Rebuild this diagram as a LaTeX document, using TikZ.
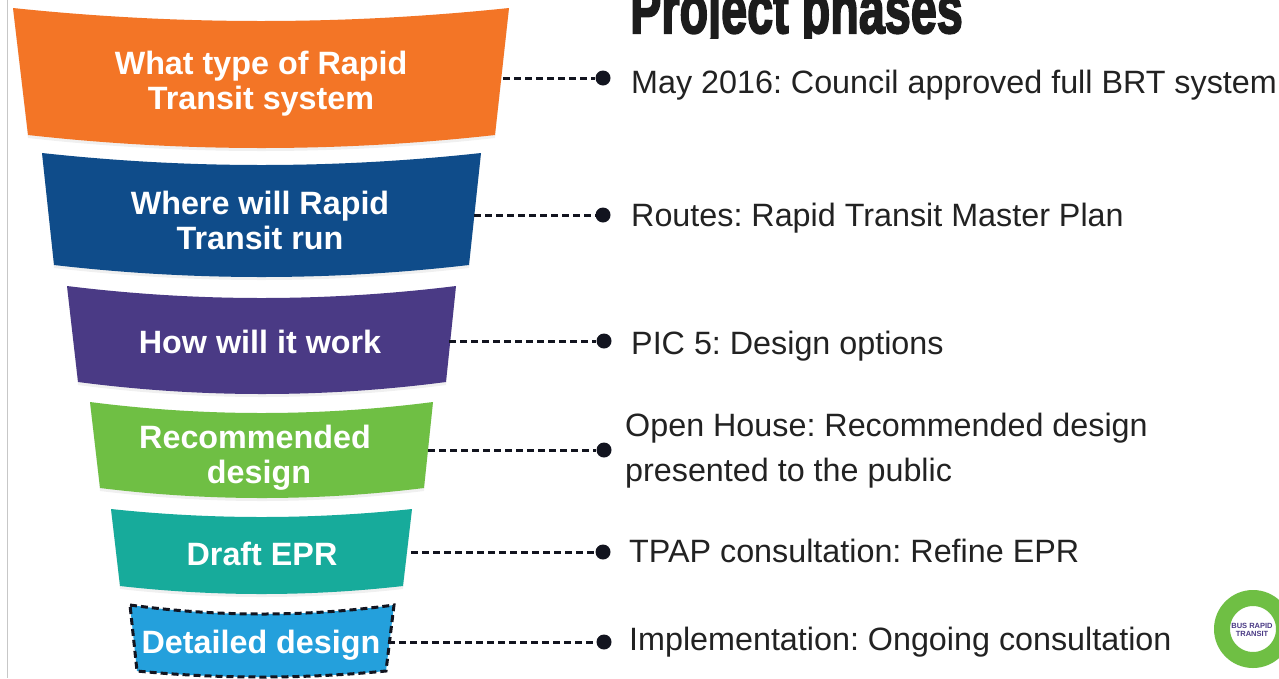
\documentclass[tikz,border=0pt]{standalone}
\usepackage{fontspec}
\setmainfont{Liberation Sans}
\newfontfamily\titlefont{Liberation Sans}[UprightFont=* Bold,FakeBold=3]
\definecolor{forange}{HTML}{F37526}
\definecolor{fblue}{HTML}{0F4C8A}
\definecolor{fpurple}{HTML}{4A3A85}
\definecolor{fgreen}{HTML}{6FBF44}
\definecolor{fteal}{HTML}{17AB9B}
\definecolor{fsky}{HTML}{24A0DC}
\definecolor{ftext}{HTML}{222222}
\definecolor{fdark}{HTML}{12141F}
\definecolor{ftitle}{HTML}{1C1C1C}
\newcommand{\funnelpath}[9]{%
  \pgfmathsetmacro{\ctop}{#3+(#6-#3)*4/3}%
  \pgfmathsetmacro{\cbot}{#8+(\fbot-#8)*4/3}%
  \pgfmathsetmacro{\cax}{#2+(#4-#2)/3}%
  \pgfmathsetmacro{\cbx}{#2+(#4-#2)*2/3}%
  \pgfmathsetmacro{\dax}{#9+(#7-#9)/3}%
  \pgfmathsetmacro{\dbx}{#9+(#7-#9)*2/3}%
  \path[#1] (#2,#3) .. controls (\cax,\ctop) and (\cbx,\ctop) .. (#4,#5)
    -- (#7,#8) .. controls (\dbx,\cbot) and (\dax,\cbot) .. (#9,#8) -- cycle;%
}
\tikzset{
  flabel/.style={text=white,font=\fontsize{32.3}{35}\selectfont\bfseries,align=center,inner sep=0pt},
  ftxt/.style={text=ftext,font=\fontsize{32.3}{45}\selectfont,align=left,anchor=west,inner sep=0pt},
  fdot/.style={circle,fill=fdark,minimum size=15pt,inner sep=0pt},
  flink/.style={draw=fdark,line width=3pt,dash pattern=on 7pt off 4pt},
  fshadow/.style={fill=black,fill opacity=.06}
}
\begin{document}
\frenchspacing
\begin{tikzpicture}[x=1pt,y=-1pt]
\useasboundingbox (0,0) rectangle (1279,678);
\clip (0,0) rectangle (1279,678);
\fill[white] (0,0) rectangle (1279,678);
\draw[black!22,line width=1pt] (7,0) -- (7,678);
\def\fbot{151}\funnelpath{fshadow}{13}{10}{509}{10}{24}{495}{138}{28}
\def\fbot{148}\funnelpath{fill=forange}{13}{8}{509}{8}{21}{495}{135}{28}
\def\fbot{280}\funnelpath{fshadow}{42}{155}{481}{155}{168}{469}{268}{54}
\def\fbot{277}\funnelpath{fill=fblue}{42}{153}{481}{153}{165}{469}{265}{54}
\def\fbot{397}\funnelpath{fshadow}{67}{288}{456}{288}{300}{446}{385}{78}
\def\fbot{394}\funnelpath{fill=fpurple}{67}{286}{456}{286}{298}{446}{382}{78}
\def\fbot{501}\funnelpath{fshadow}{90}{404}{433}{404}{416}{424}{491}{100}
\def\fbot{498}\funnelpath{fill=fgreen}{90}{402}{433}{402}{413}{424}{488}{100}
\def\fbot{597}\funnelpath{fshadow}{111}{511}{412}{511}{520}{403}{589}{120}
\def\fbot{594}\funnelpath{fill=fteal}{111}{509}{412}{509}{517}{403}{586}{120}
\def\fbot{677}\funnelpath{fill=fsky,draw=fdark,line width=3pt,dash pattern=on 7pt off 4pt}{130}{605}{394}{605}{614}{386}{671}{137}
\node[flabel] (l1) at (261,84) {What type of Rapid\\Transit system};
\node[flabel] (l2) at (260,220) {Where will Rapid\\Transit run};
\node[flabel] (l3) at (260,342) {How will it work};
\node[flabel] (l4) at (259,458) {Recommended\rule{8pt}{0pt}\\design};
\node[flabel] (l5) at (262,554) {Draft EPR};
\node[flabel] (l6) at (261,645) {Detailed design};
\coordinate (s1) at (503,78);
\coordinate (s2) at (474,215);
\coordinate (s3) at (449,341);
\coordinate (s4) at (428,450);
\coordinate (s5) at (411,552);
\coordinate (s6) at (388,642);
\node[fdot] (d1) at (603,78) {};
\node[fdot] (d2) at (603,215) {};
\node[fdot] (d3) at (604,341) {};
\node[fdot] (d4) at (604,450) {};
\node[fdot] (d5) at (603,552) {};
\node[fdot] (d6) at (604,642) {};
\foreach \i in {1,...,6} \draw[flink] (s\i) -- (d\i);
\node[ftxt] (t1) at (631,85) {May 2016: Council approved full BRT system};
\node[ftxt] (t2) at (631,218) {Routes: Rapid Transit Master Plan};
\node[ftxt] (t3) at (631,346) {PIC 5: Design options};
\node[ftxt] (t4) at (625,451) {Open House: Recommended design\\presented to the public};
\node[ftxt] (t5) at (629,551) {TPAP consultation: Refine EPR};
\node[ftxt] (t6) at (629,642) {Implementation: Ongoing consultation};
\begin{scope}
\clip (620,0) rectangle (980,38);
\node[anchor=base west,inner sep=0pt,text=ftitle] (title) at (630,33)
  {\scalebox{.835}[1.22]{\fontsize{56}{60}\selectfont\titlefont Project phases}};
\end{scope}
\node[circle,draw=fgreen,line width=16pt,fill=white,minimum size=62pt,inner sep=0pt] (logo) at (1253,629) {};
\node[inner sep=0pt,align=center,text=fpurple,font=\fontsize{7.5}{8}\selectfont\bfseries] (logotext) at (1252,630) {BUS RAPID\\TRANSIT};
\end{tikzpicture}
\end{document}
